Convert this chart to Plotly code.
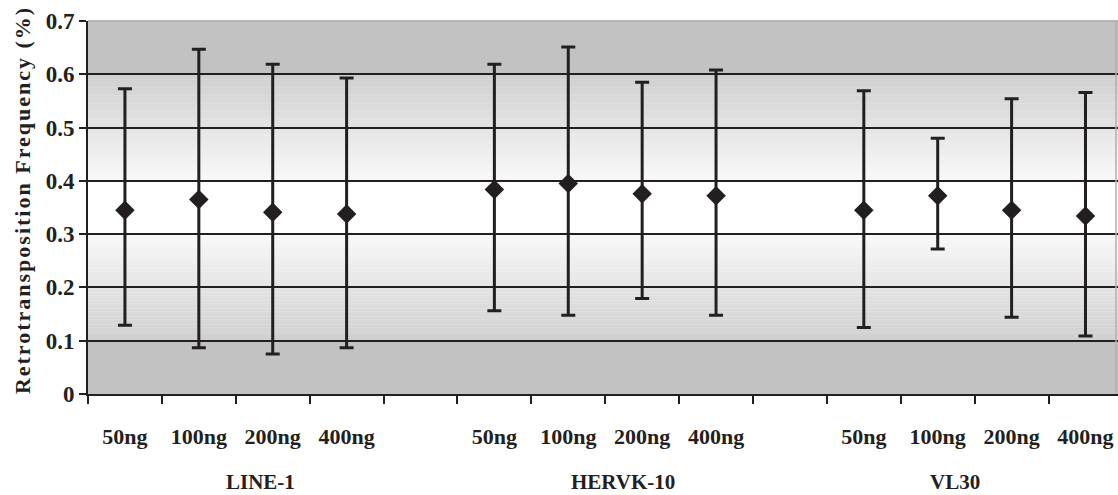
import plotly.graph_objects as go

# Retrotransposition frequency (%) per transfected DNA amount, three elements
groups = ["LINE-1", "HERVK-10", "VL30"]
doses = ["50ng", "100ng", "200ng", "400ng"]

line1_mean = [0.345, 0.365, 0.341, 0.338]
line1_upper = [0.573, 0.647, 0.619, 0.593]
line1_lower = [0.129, 0.087, 0.075, 0.087]

hervk_mean = [0.384, 0.395, 0.376, 0.372]
hervk_upper = [0.619, 0.651, 0.585, 0.608]
hervk_lower = [0.156, 0.148, 0.179, 0.148]

vl30_mean = [0.345, 0.372, 0.345, 0.334]
vl30_upper = [0.569, 0.480, 0.554, 0.566]
vl30_lower = [0.125, 0.272, 0.144, 0.109]

y_ticks = [0, 0.1, 0.2, 0.3, 0.4, 0.5, 0.6, 0.7]

series = [
    (line1_mean, line1_upper, line1_lower),
    (hervk_mean, hervk_upper, hervk_lower),
    (vl30_mean, vl30_upper, vl30_lower),
]

INK = "#231f20"
FONT = "Liberation Serif"

# each group takes four slots followed by one empty slot
xs, ys, ep, em, tickpos, ticktext = [], [], [], [], [], []
for g, (mean, up, lo) in enumerate(series):
    for i, d in enumerate(doses):
        pos = g * 5 + i
        xs.append(pos)
        ys.append(mean[i])
        ep.append(up[i] - mean[i])
        em.append(mean[i] - lo[i])
        tickpos.append(pos)
        ticktext.append(d)

n_slots = len(groups) * 5 - 1

fig = go.Figure()
fig.add_trace(go.Scatter(
    x=xs, y=ys, mode="markers",
    marker=dict(symbol="diamond", size=15, color=INK),
    error_y=dict(type="data", symmetric=False, array=ep, arrayminus=em,
                 color=INK, thickness=3, width=7),
    showlegend=False,
))

# shaded background: flat grey bands at the ends, fading to white in the middle
shapes = []
grey = "rgb(194,194,194)"
shapes.append(dict(type="rect", xref="paper", yref="y", x0=0, x1=1, y0=0, y1=0.1,
                   fillcolor=grey, line_width=0, layer="below"))
shapes.append(dict(type="rect", xref="paper", yref="y", x0=0, x1=1, y0=0.6, y1=0.7,
                   fillcolor=grey, line_width=0, layer="below"))
step = 0.005
k = 0
while True:
    y0 = 0.1 + k * step
    if y0 >= 0.6 - 1e-9:
        break
    y1 = y0 + step
    mid = (y0 + y1) / 2
    if mid < 0.3:
        t = (0.3 - mid) / 0.2
        lum = 249 - 42 * t
    elif mid > 0.4:
        t = (mid - 0.4) / 0.2
        lum = 249 - 42 * t
    else:
        lum = 255
    c = int(round(lum))
    shapes.append(dict(type="rect", xref="paper", yref="y", x0=0, x1=1, y0=y0, y1=y1 + 0.0005,
                       fillcolor=f"rgb({c},{c},{c})", line_width=0, layer="below"))
    k += 1

# light frame on the top and right sides
shapes.append(dict(type="line", xref="paper", yref="paper", x0=0, x1=1, y0=1, y1=1,
                   line=dict(color="#a8a8a8", width=1.5)))
shapes.append(dict(type="line", xref="paper", yref="paper", x0=0.998, x1=0.998, y0=0, y1=1,
                   line=dict(color="#b0b0b0", width=1.5)))

annotations = []
group_centers = [1.84, 6.74, 11.24]
for name, cx in zip(groups, group_centers):
    annotations.append(dict(
        text=name, x=cx, xref="x", y=-0.235, yref="paper", showarrow=False,
        xanchor="center", yanchor="middle",
        font=dict(family=FONT, size=21, color=INK, weight="bold"),
    ))
annotations.append(dict(
    text='<span style="letter-spacing:2px">Retrotransposition Frequency (%)</span>',
    x=-0.064, xref="paper", y=0.52, yref="paper", showarrow=False,
    textangle=-90, xanchor="center", yanchor="middle",
    font=dict(family=FONT, size=22, color=INK, weight="bold"),
))

fig.update_layout(
    width=1118, height=495,
    margin=dict(l=88, r=0, t=21, b=101),
    paper_bgcolor="white", plot_bgcolor="white",
    shapes=shapes, annotations=annotations,
    xaxis=dict(
        range=[-0.5, n_slots - 0.5 - 0.06],
        tickmode="array", tickvals=tickpos, ticktext=ticktext, ticks="",
        ticklabelstandoff=22,
        tickfont=dict(family=FONT, size=22, color=INK, weight="bold"),
        showgrid=False, zeroline=False,
        showline=True, linecolor=INK, linewidth=2,
        minor=dict(tickmode="array", tickvals=[i - 0.5 for i in range(n_slots + 1)],
                   ticks="outside", ticklen=8, tickwidth=1.5, tickcolor=INK,
                   showgrid=False),
    ),
    yaxis=dict(
        range=[0, 0.7], tickmode="array", tickvals=y_ticks,
        ticktext=[("0" if v == 0 else f"{v:.1f}") for v in y_ticks],
        ticks="outside", ticklen=7, tickwidth=1.5, tickcolor=INK,
        tickfont=dict(family=FONT, size=23, color=INK, weight="bold"),
        showgrid=True, gridcolor=INK, gridwidth=1.8,
        zeroline=False, showline=True, linecolor=INK, linewidth=2,
    ),
)

fig.write_html("out.html")
